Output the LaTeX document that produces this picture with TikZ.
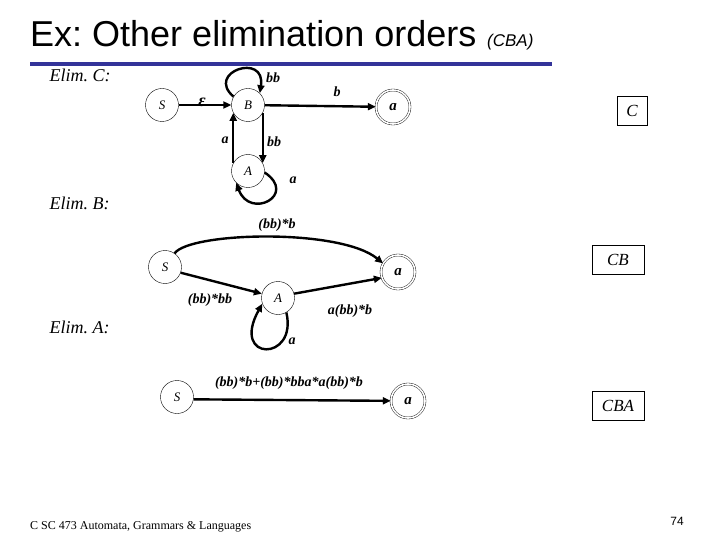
\documentclass[tikz,border=0pt]{standalone}
\usepackage{fontspec}
\setmainfont{Liberation Serif}[
  BoldFont={Liberation Serif Bold},
  ItalicFont={Liberation Serif Italic},
  BoldItalicFont={Liberation Serif Bold Italic}]
\setsansfont{Liberation Sans}
\usetikzlibrary{arrows.meta,positioning}
\definecolor{slideblue}{HTML}{333399}
\frenchspacing
\begin{document}
\begin{tikzpicture}[
  x=1pt, y=-1pt,
  state/.style={circle, draw, thin, minimum size=33pt, inner sep=0pt,
    font=\itshape\fontsize{13}{13}\selectfont},
  final/.style={state, double, double distance=1.6pt, minimum size=34pt,
    font=\bfseries\itshape\fontsize{15}{15}\selectfont},
  lbl/.style={font=\bfseries\itshape\fontsize{14}{14}\selectfont, inner sep=1pt},
  order/.style={draw, thin, minimum height=29pt, align=center,
    font=\itshape\fontsize{17}{17}\selectfont},
  elim/.style={anchor=west, font=\itshape\fontsize{18}{18}\selectfont},
  arr/.style={-{Triangle[length=8pt, width=7pt]}, line width=2.4pt}
]
\useasboundingbox (0,0) rectangle (720,540);

\node[anchor=base west, inner sep=0pt, font=\sffamily\fontsize{36}{36}\selectfont]
  (title) at (30,47) {Ex: Other elimination orders};
\node[anchor=base west, inner sep=0pt, font=\sffamily\itshape\fontsize{17}{17}\selectfont]
  (titleord) at (487,47) {(CBA)};
\draw[slideblue, line width=4pt] (30,64) -- (552,64);

\node[elim] (elimC) at (46,75) {Elim. C:};
\node[elim] (elimB) at (46,203) {Elim. B:};
\node[elim] (elimA) at (46,327) {Elim. A:};

\node[state] (c-S) at (162,105) {S};
\node[state] (c-B) at (248,105) {B};
\node[state] (c-A) at (248,171) {A};
\node[final] (c-a) at (393,107) {a};
\draw[arr] (c-S) -- (c-B);
\draw[arr] (c-B) -- (c-a);
\draw[arr] (c-B.150) .. controls (205,72) and (266,52) .. (c-B.45);
\draw[arr] (c-B.-28) -- (c-A.28);
\draw[arr] (c-A.152) -- (c-B.208);
\draw[arr] (c-A.-5) .. controls (298,195) and (250,220) .. (c-A.225);
\node[lbl, font=\bfseries\itshape\fontsize{18}{18}\selectfont] (c-l1) at (202,102) {ε};
\node[lbl] (c-l2) at (273,78) {bb};
\node[lbl] (c-l3) at (337,92) {b};
\node[lbl] (c-l4) at (225,140) {a};
\node[lbl] (c-l5) at (274,142) {bb};
\node[lbl] (c-l6) at (293,180) {a};

\node[state] (b-S) at (165,267) {S};
\node[state] (b-A) at (278,298) {A};
\node[final] (b-a) at (398,272) {a};
\draw[arr] (b-S.55) .. controls (190,232) and (340,228) .. (b-a.150);
\draw[arr] (b-S.-20) -- (b-A.165);
\draw[arr] (b-A.15) -- (b-a.200);
\draw[arr] (b-A.-60) .. controls (298,362) and (230,362) .. (b-A.200);
\node[lbl] (b-l1) at (277,225) {(bb)*b};
\node[lbl] (b-l2) at (210,300) {(bb)*bb};
\node[lbl] (b-l3) at (350,311) {a(bb)*b};
\node[lbl] (b-l4) at (292,341) {a};

\node[state] (a-S) at (177,397) {S};
\node[final] (a-a) at (408,401) {a};
\draw[arr] (a-S.-8) -- (a-a);
\node[lbl] (a-l1) at (289,383) {(bb)*b+(bb)*bba*a(bb)*b};

\node[order, minimum width=30pt] (ordC) at (632,111) {C};
\node[order, minimum width=52pt] (ordCB) at (618,260) {CB};
\node[order, minimum width=52pt] (ordCBA) at (618,406) {CBA};

\node[anchor=base west, inner sep=0pt, font=\fontsize{12}{12}\selectfont]
  (footer) at (30,529) {C SC 473 Automata, Grammars \& Languages};
\node[anchor=base east, inner sep=0pt, font=\sffamily\fontsize{12}{12}\selectfont]
  (pagenum) at (684,525) {74};
\end{tikzpicture}
\end{document}
